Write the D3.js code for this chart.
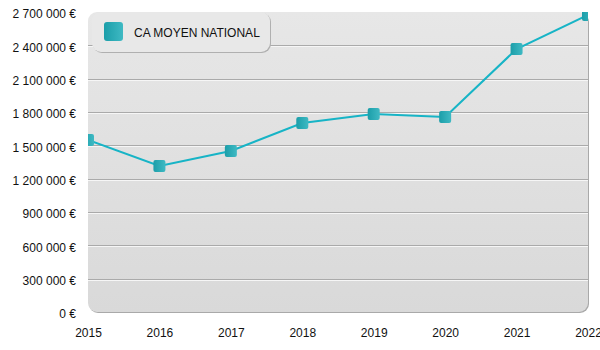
<!DOCTYPE html>
<html>
<head>
<meta charset="utf-8">
<script src="https://cdn.jsdelivr.net/npm/d3@7"></script>
<style>
  html, body { margin: 0; padding: 0; background: #fff; }
  svg { display: block; font-family: "Liberation Sans", Arial, sans-serif; }
</style>
</head>
<body>
<svg id="chart" width="600" height="350"></svg>
<script>
const years = [2015, 2016, 2017, 2018, 2019, 2020, 2021, 2022];
const caMoyenNational = [1548000, 1314000, 1449000, 1701000, 1782000, 1755000, 2367000, 2673000];
const yTicks = [0, 300000, 600000, 900000, 1200000, 1500000, 1800000, 2100000, 2400000, 2700000];
const seriesName = "CA MOYEN NATIONAL";

const svg = d3.select("#chart");
const L = 88, R = 588, T = 12, B = 312;

const x = d3.scaleLinear().domain([2015, 2022]).range([L, R]);
const y = d3.scaleLinear().domain([0, 2700000]).range([B, T]);

const defs = svg.append("defs");
const bg = defs.append("linearGradient").attr("id", "bg").attr("x1", 0).attr("y1", 0).attr("x2", 0).attr("y2", 1);
bg.append("stop").attr("offset", "0%").attr("stop-color", "#e7e7e7");
bg.append("stop").attr("offset", "100%").attr("stop-color", "#d9d9d9");
const mk = defs.append("linearGradient").attr("id", "mk").attr("x1", 0).attr("y1", 0).attr("x2", 1).attr("y2", 0);
mk.append("stop").attr("offset", "0%").attr("stop-color", "#1b9ea9");
mk.append("stop").attr("offset", "100%").attr("stop-color", "#3fb9c3");
defs.append("clipPath").attr("id", "clip").append("rect")
  .attr("x", L).attr("y", T).attr("width", R - L).attr("height", B - T);

// plot background with shadow
svg.append("rect").attr("x", L + 1).attr("y", T + 1).attr("width", R - L).attr("height", B - T)
  .attr("rx", 9).attr("fill", "#a9a9a9");
svg.append("rect").attr("x", L).attr("y", T).attr("width", R - L).attr("height", B - T)
  .attr("rx", 9).attr("fill", "url(#bg)");

// gridlines
const grid = svg.append("g");
yTicks.filter(v => v > 0 && v < 2700000).forEach(v => {
  grid.append("line").attr("x1", L).attr("x2", R).attr("y1", Math.round(y(v)) + 0.5).attr("y2", Math.round(y(v)) + 0.5)
    .attr("stroke", "#aaaaaa").attr("stroke-width", 1);
  grid.append("line").attr("x1", L).attr("x2", R).attr("y1", Math.round(y(v)) + 1.5).attr("y2", Math.round(y(v)) + 1.5)
    .attr("stroke", "#f6f6f6").attr("stroke-width", 1);
});

// axes
const fmt = v => d3.format(",")(v).replace(/,/g, " ") + " €";
const yAxis = svg.append("g").attr("transform", `translate(${L},2)`)
  .call(d3.axisLeft(y).tickValues(yTicks).tickFormat(fmt).tickSize(0).tickPadding(12));
yAxis.select(".domain").remove();
yAxis.selectAll("text").attr("font-size", 12).attr("fill", "#111").attr("font-family", "Liberation Sans, Arial, sans-serif");

const xAxis = svg.append("g").attr("transform", `translate(0,${B})`)
  .call(d3.axisBottom(x).tickValues(years).tickFormat(d3.format("d")).tickSize(0).tickPadding(16));
xAxis.select(".domain").remove();
xAxis.selectAll("text").attr("font-size", 12).attr("fill", "#111").attr("font-family", "Liberation Sans, Arial, sans-serif");

// line & markers
const data = years.map((yr, i) => ({ yr, v: caMoyenNational[i] }));
const g = svg.append("g").attr("clip-path", "url(#clip)");
g.append("path").datum(data)
  .attr("d", d3.line().x(d => x(d.yr)).y(d => y(d.v)))
  .attr("fill", "none").attr("stroke", "#17b4c6").attr("stroke-width", 2);
g.selectAll("rect.m").data(data).enter().append("rect").attr("class", "m")
  .attr("x", d => x(d.yr) - 6).attr("y", d => y(d.v) - 6)
  .attr("width", 12).attr("height", 12).attr("rx", 2)
  .attr("fill", "url(#mk)");

// legend
const lg = svg.append("g");
lg.append("rect").attr("x", 93).attr("y", 13).attr("width", 178).attr("height", 40).attr("rx", 9).attr("fill", "#b0b0b0");
lg.append("rect").attr("x", 92).attr("y", 12).attr("width", 178).attr("height", 40).attr("rx", 9).attr("fill", "#e8e8e8");
lg.append("rect").attr("x", 104).attr("y", 22).attr("width", 19).attr("height", 19).attr("rx", 3).attr("fill", "url(#mk)");
lg.append("text").attr("x", 134).attr("y", 36.5).attr("font-size", 12).attr("fill", "#111").text(seriesName);
</script>
</body>
</html>
